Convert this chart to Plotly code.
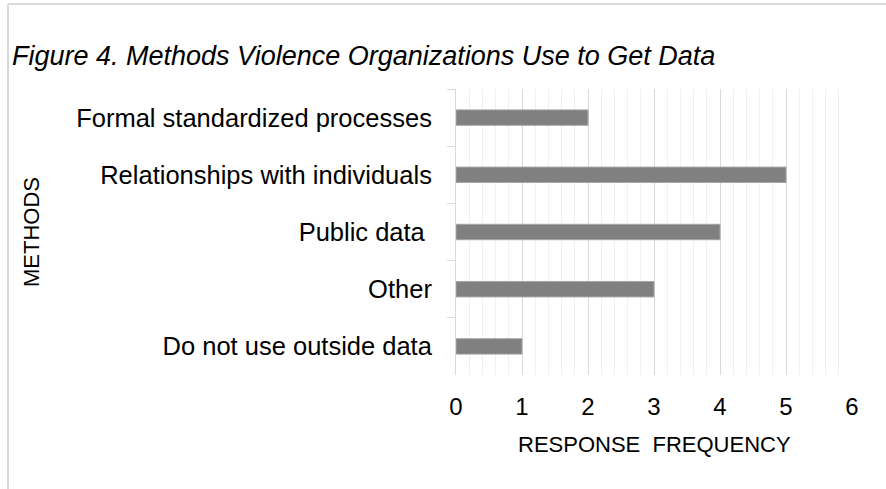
import plotly.graph_objects as go

categories = ["Formal standardized processes", "Relationships with individuals",
              "Public data\u00a0", "Other", "Do not use outside data"]
values = [2, 5, 4, 3, 1]
x_ticks = [0, 1, 2, 3, 4, 5, 6]

W, H = 886, 489
L, R, T, B = 456, 34, 89, 114
pw, ph = W - L - R, H - T - B

def px_x(px):
    return (px - L) / pw

def px_y(py):
    return (H - B - py) / ph

fig = go.Figure()
fig.add_trace(go.Bar(
    y=categories, x=values, orientation="h",
    marker=dict(color="#808080", line=dict(color="#a6a6a6", width=1)),
    width=0.27,
))

font_family = "Liberation Sans, Arial, sans-serif"

fig.update_layout(
    width=W, height=H,
    margin=dict(l=L, r=R, t=T, b=B),
    paper_bgcolor="white", plot_bgcolor="white",
    showlegend=False,
    font=dict(family=font_family, color="#000000"),
    title=dict(text="<i>Figure 4. Methods Violence Organizations Use to Get Data</i>",
               x=12 / W, xanchor="left", xref="container",
               y=1 - 56 / H, yanchor="middle", yref="container",
               font=dict(size=27, family=font_family, color="#000000")),
    xaxis=dict(range=[0, 6], tickvals=x_ticks, ticktext=[str(v) for v in x_ticks],
               showgrid=True, gridcolor="#d9d9d9", gridwidth=1,
               minor=dict(dtick=0.2, showgrid=True, gridcolor="#f0f0f0", gridwidth=1),
               zeroline=False, showline=False, ticks="",
               tickfont=dict(size=24, family=font_family, color="#000000"),
               ticklabelstandoff=15, fixedrange=True),
    yaxis=dict(autorange="reversed", showgrid=False, zeroline=False,
               showline=True, linecolor="#d9d9d9", linewidth=1,
               ticks="outside", ticklen=8, tickcolor="#d9d9d9", tickwidth=1,
               tickson="boundaries",
               tickfont=dict(size=25.5, family=font_family, color="#000000"),
               ticklabelstandoff=18, fixedrange=True),
    annotations=[
        dict(text="RESPONSE\u00a0\u00a0FREQUENCY", xref="paper", yref="paper",
             x=px_x(654), y=px_y(444), xanchor="center", yanchor="middle",
             showarrow=False, font=dict(size=22, family=font_family, color="#000000")),
        dict(text="METHODS", xref="paper", yref="paper",
             x=px_x(31), y=px_y(232), xanchor="center", yanchor="middle",
             textangle=-90, showarrow=False,
             font=dict(size=22, family=font_family, color="#000000")),
    ],
    shapes=[
        dict(type="line", xref="paper", yref="paper",
             x0=px_x(8), x1=px_x(890), y0=px_y(4), y1=px_y(4),
             line=dict(color="#d9d9d9", width=2)),
        dict(type="line", xref="paper", yref="paper",
             x0=px_x(8), x1=px_x(8), y0=px_y(4), y1=px_y(495),
             line=dict(color="#d9d9d9", width=2)),
    ],
)

fig.write_html("out.html")
